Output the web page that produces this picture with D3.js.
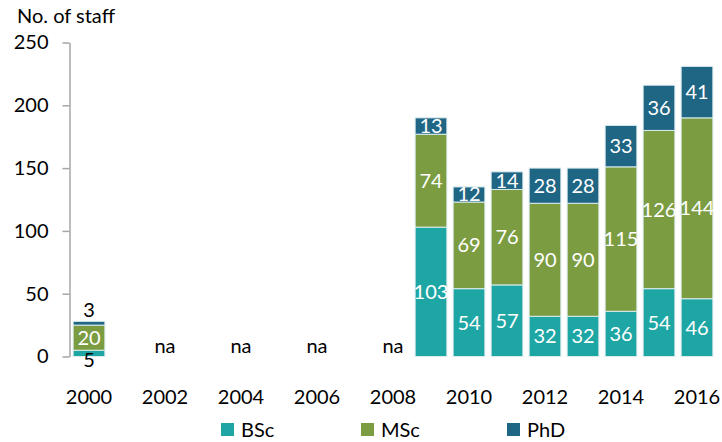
<!DOCTYPE html>
<html>
<head>
<meta charset="utf-8">
<script src="https://cdn.jsdelivr.net/npm/d3@7"></script>
<style>
  html, body { margin: 0; padding: 0; background: #fff; }
  svg { display: block; font-family: Lato, "Open Sans", sans-serif; }
</style>
</head>
<body>
<svg id="chart" width="722" height="442"></svg>
<script>
// ---- data ----
const years = ["2000","2001","2002","2003","2004","2005","2006","2007","2008","2009","2010","2011","2012","2013","2014","2015","2016"];
const dataYears = ["2000","2009","2010","2011","2012","2013","2014","2015","2016"];
const bsc = [5, 103, 54, 57, 32, 32, 36, 54, 46];
const msc = [20, 74, 69, 76, 90, 90, 115, 126, 144];
const phd = [3, 13, 12, 14, 28, 28, 33, 36, 41];
const naYears = ["2002","2004","2006","2008"];
const xTickLabels = ["2000","2002","2004","2006","2008","2010","2012","2014","2016"];
const yTicks = [0, 50, 100, 150, 200, 250];
const seriesNames = ["BSc", "MSc", "PhD"];
const seriesColors = ["#1ea6a5", "#7b9c41", "#1f6584"];
const yTitle = "No. of staff";

// ---- build ----
const svg = d3.select("#chart");
const fontSize = 20;
const margin = { left: 70, right: 6, top: 42.5, bottom: 85.5 };
const W = 722, H = 442;

const x = d3.scaleBand().domain(years).range([margin.left, W - margin.right]).paddingInner(0.165).paddingOuter(0.0825);
const y = d3.scaleLinear().domain([0, 250]).range([H - margin.bottom, margin.top]);

const rows = dataYears.map((yr, i) => ({ year: yr, BSc: bsc[i], MSc: msc[i], PhD: phd[i] }));
const stack = d3.stack().keys(seriesNames)(rows);
const color = d3.scaleOrdinal().domain(seriesNames).range(seriesColors);

// y axis
const yAxis = svg.append("g")
  .attr("transform", `translate(${margin.left - 0.5},0)`)
  .call(d3.axisLeft(y).tickValues(yTicks).tickSize(7).tickSizeOuter(0).tickPadding(14));
yAxis.select(".domain").attr("stroke", "#a6a6a6").attr("stroke-width", 1.5);
yAxis.selectAll(".tick line").attr("stroke", "#a6a6a6").attr("stroke-width", 1.5);
yAxis.selectAll(".tick text").attr("font-size", fontSize).attr("font-family", "Lato").attr("fill", "#000");

// x axis labels
const xAxis = svg.append("g")
  .attr("transform", `translate(0,${H - margin.bottom})`)
  .call(d3.axisBottom(x).tickValues(xTickLabels).tickSize(0).tickPadding(33));
xAxis.select(".domain").remove();
xAxis.selectAll(".tick text").attr("font-size", fontSize).attr("font-family", "Lato").attr("fill", "#000");

// title
svg.append("text").attr("x", 17).attr("y", 23).attr("font-size", fontSize).attr("fill", "#000").text(yTitle);

// bars
const groups = svg.append("g").selectAll("g").data(stack).join("g").attr("fill", d => color(d.key));
groups.selectAll("rect").data(d => d).join("rect")
  .attr("x", d => x(d.data.year))
  .attr("width", x.bandwidth())
  .attr("y", d => y(d[1]))
  .attr("height", d => y(d[0]) - y(d[1]))
  .attr("stroke", "#dcecee")
  .attr("stroke-width", 1);

// value labels
const minInside = 12;
stack.forEach((layer, li) => {
  layer.forEach(d => {
    const v = d[1] - d[0];
    const h = y(d[0]) - y(d[1]);
    const cx = x(d.data.year) + x.bandwidth() / 2;
    let ty, fill = "#fff";
    if (h >= minInside) {
      ty = (y(d[0]) + y(d[1])) / 2 + 7;
    } else if (li === 0) {
      ty = y(d[0]) + 10; fill = "#000";
    } else {
      ty = y(d[1]) - 4; fill = "#000";
    }
    svg.append("text").attr("x", cx).attr("y", ty).attr("text-anchor", "middle")
      .attr("font-size", fontSize).attr("fill", fill).text(v);
  });
});

// na labels
svg.append("g").selectAll("text").data(naYears).join("text")
  .attr("x", d => x(d) + x.bandwidth() / 2)
  .attr("y", y(0) - 4)
  .attr("text-anchor", "middle")
  .attr("font-size", fontSize).attr("fill", "#000")
  .text("na");

// legend
const legendX = [221, 361, 507];
const lg = svg.append("g").selectAll("g").data(seriesNames).join("g")
  .attr("transform", (d, i) => `translate(${legendX[i]},437)`);
lg.append("rect").attr("x", 0).attr("y", -14).attr("width", 13).attr("height", 13).attr("fill", d => color(d));
lg.append("text").attr("x", 20).attr("y", 0).attr("font-size", fontSize).attr("fill", "#000").text(d => d);
</script>
</body>
</html>
